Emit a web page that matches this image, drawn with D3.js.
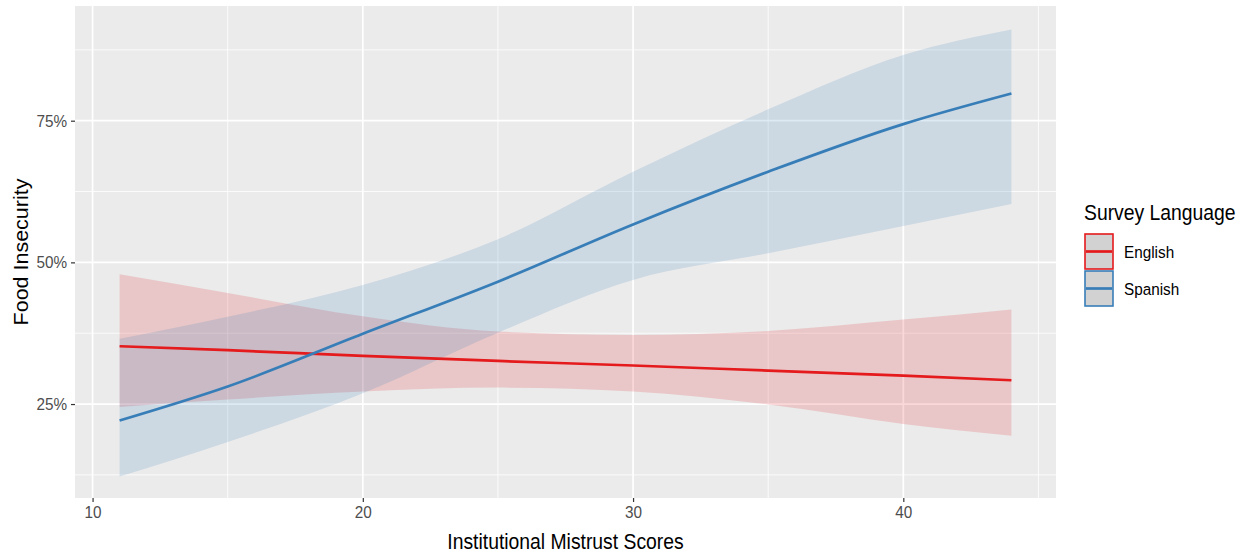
<!DOCTYPE html>
<html>
<head>
<meta charset="utf-8">
<script src="https://cdn.jsdelivr.net/npm/d3@7"></script>
<style>
  body { margin: 0; background: #fff; }
  text { font-family: "Liberation Sans", Arial, sans-serif; }
</style>
</head>
<body>
<div id="main"></div>
<script>
'use strict';

// values (percent)
var scores = [11, 15, 20, 25, 30, 35, 40, 44];
var englishFit = [35.2, 34.5, 33.5, 32.6, 31.8, 30.9, 30.0, 29.2];
var englishLow = [24.5, 25.8, 27.2, 27.9, 27.2, 24.9, 21.5, 19.4];
var englishHigh = [47.9, 44.6, 40.5, 37.8, 37.2, 37.9, 39.9, 41.7];
var spanishFit = [22.1, 28.1, 37.4, 46.6, 56.7, 66.0, 74.4, 79.8];
var spanishLow = [12.2, 18.3, 26.9, 37.6, 46.9, 51.6, 56.4, 60.3];
var spanishHigh = [36.5, 40.4, 46.0, 54.1, 66.0, 77.0, 86.6, 91.1];

var xTicks = [10, 20, 30, 40];
var xMinor = [15, 25, 35, 45];
var yTicks = [25, 50, 75];
var yMinor = [12.5, 37.5, 62.5, 87.5];

var languages = ['English', 'Spanish'];
var colors = { English: '#e41a1c', Spanish: '#377eb8' };

var width = 1247, height = 560;
var panel = { left: 75, right: 1056, top: 6, bottom: 498 };
var squash = 0.9;

var svg = d3.select('#main').append('svg')
	.attr('width', width)
	.attr('height', height);

var x = d3.scaleLinear().domain([9.35, 45.65]).range([panel.left, panel.right]);
var y = d3.scaleLinear().domain([8.42, 95.24]).range([panel.bottom, panel.top]);

// panel background
svg.append('rect')
	.attr('x', panel.left).attr('y', panel.top)
	.attr('width', panel.right - panel.left)
	.attr('height', panel.bottom - panel.top)
	.attr('fill', '#ebebeb');

var grid = svg.append('g');
grid.selectAll('line.ymin').data(yMinor).enter().append('line')
	.attr('x1', panel.left).attr('x2', panel.right)
	.attr('y1', function(d) { return y(d); }).attr('y2', function(d) { return y(d); })
	.attr('stroke', '#fff').attr('stroke-width', 0.8);
grid.selectAll('line.xmin').data(xMinor).enter().append('line')
	.attr('y1', panel.top).attr('y2', panel.bottom)
	.attr('x1', function(d) { return x(d); }).attr('x2', function(d) { return x(d); })
	.attr('stroke', '#fff').attr('stroke-width', 0.8);
grid.selectAll('line.ymaj').data(yTicks).enter().append('line')
	.attr('x1', panel.left).attr('x2', panel.right)
	.attr('y1', function(d) { return y(d); }).attr('y2', function(d) { return y(d); })
	.attr('stroke', '#fff').attr('stroke-width', 1.7);
grid.selectAll('line.xmaj').data(xTicks).enter().append('line')
	.attr('y1', panel.top).attr('y2', panel.bottom)
	.attr('x1', function(d) { return x(d); }).attr('x2', function(d) { return x(d); })
	.attr('stroke', '#fff').attr('stroke-width', 1.7);

var series = [
	{ name: 'English', fit: englishFit, low: englishLow, high: englishHigh },
	{ name: 'Spanish', fit: spanishFit, low: spanishLow, high: spanishHigh }
];

var band = d3.area()
	.x(function(d) { return x(d.s); })
	.y0(function(d) { return y(d.lo); })
	.y1(function(d) { return y(d.hi); })
	.curve(d3.curveMonotoneX);

var line = d3.line()
	.x(function(d) { return x(d.s); })
	.y(function(d) { return y(d.f); })
	.curve(d3.curveMonotoneX);

function rows(s) {
	return scores.map(function(v, i) {
		return { s: v, f: s.fit[i], lo: s.low[i], hi: s.high[i] };
	});
}

// ribbons first, then lines on top
series.forEach(function(s) {
	svg.append('path')
		.datum(rows(s))
		.attr('d', band)
		.attr('fill', colors[s.name])
		.attr('fill-opacity', 0.17);
});
series.forEach(function(s) {
	svg.append('path')
		.datum(rows(s))
		.attr('d', line)
		.attr('fill', 'none')
		.attr('stroke', colors[s.name])
		.attr('stroke-width', 2.7);
});

// axes
var xAxis = svg.append('g')
	.attr('transform', 'translate(0,' + panel.bottom + ')')
	.call(d3.axisBottom(x).tickValues(xTicks).tickSize(4).tickPadding(4));
var yAxis = svg.append('g')
	.attr('transform', 'translate(' + panel.left + ',0)')
	.call(d3.axisLeft(y).tickValues(yTicks).tickSize(4).tickPadding(4)
		.tickFormat(function(d) { return d + '%'; }));

[xAxis, yAxis].forEach(function(ax) {
	ax.select('.domain').remove();
	ax.selectAll('.tick line').attr('stroke', '#333').attr('stroke-width', 1.2);
	ax.selectAll('.tick text')
		.attr('fill', '#4d4d4d')
		.style('font-size', '17px')
		.style('font-family', '"Liberation Sans", Arial, sans-serif');
});
xAxis.selectAll('.tick text').attr('transform', 'scale(' + squash + ',1)');
yAxis.selectAll('.tick text')
	.attr('x', 0)
	.attr('transform', 'translate(-8,0) scale(' + squash + ',1)');

// axis titles
svg.append('text')
	.attr('transform', 'translate(' + ((panel.left + panel.right) / 2) + ',549) scale(' + squash + ',1)')
	.attr('text-anchor', 'middle')
	.style('font-size', '21.5px')
	.attr('fill', '#000')
	.text('Institutional Mistrust Scores');

svg.append('text')
	.attr('transform', 'translate(28,' + ((panel.top + panel.bottom) / 2) + ') rotate(-90) scale(1,' + squash + ')')
	.attr('text-anchor', 'middle')
	.style('font-size', '21.5px')
	.attr('fill', '#000')
	.text('Food Insecurity');

// legend
var legend = svg.append('g').attr('transform', 'translate(1084,0)');
legend.append('text')
	.attr('transform', 'translate(0,220) scale(' + squash + ',1)')
	.style('font-size', '21.5px')
	.attr('fill', '#000')
	.text('Survey Language');

var keyH = 35, keyW = 28, keyTop = 234;
var keys = legend.selectAll('g.key').data(languages).enter().append('g')
	.attr('transform', function(d, i) { return 'translate(1,' + (keyTop + i * (keyH + 2)) + ')'; });
keys.append('rect')
	.attr('width', keyW).attr('height', keyH)
	.attr('fill', '#d2d2d2')
	.attr('stroke', function(d) { return colors[d]; })
	.attr('stroke-width', 1.6);
keys.append('line')
	.attr('x1', 1).attr('x2', keyW - 1)
	.attr('y1', keyH / 2).attr('y2', keyH / 2)
	.attr('stroke', function(d) { return colors[d]; })
	.attr('stroke-width', 2.7);
keys.append('text')
	.attr('transform', 'translate(' + (keyW + 11) + ',' + (keyH / 2 + 6) + ') scale(' + squash + ',1)')
	.style('font-size', '17px')
	.attr('fill', '#000')
	.text(function(d) { return d; });
</script>
</body>
</html>
